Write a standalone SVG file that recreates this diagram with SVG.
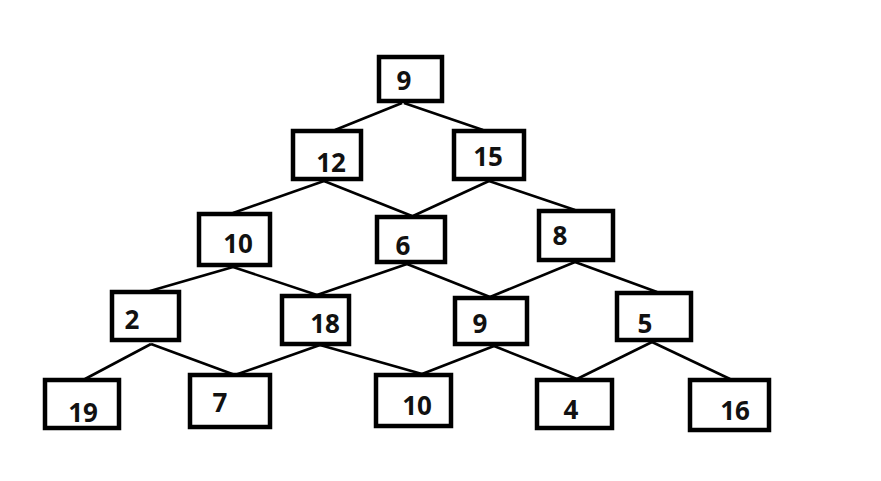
<svg xmlns="http://www.w3.org/2000/svg" width="881" height="481" viewBox="0 0 881 481">
<style>
.box{fill:#fff;stroke:#000;stroke-width:4.5}
.lbl{font-family:"Noto Sans","Open Sans","DejaVu Sans",sans-serif;font-weight:bold;font-size:26px;fill:#111;text-anchor:middle}
.edge{stroke:#000;stroke-width:2.6;fill:none}
</style>
<rect width="881" height="481" fill="#fff"/>
<g id="connectors">
<line class="edge" x1="402" y1="103" x2="335" y2="130"/>
<line class="edge" x1="404" y1="103" x2="483" y2="130"/>
<line class="edge" x1="324" y1="181" x2="233" y2="213"/>
<line class="edge" x1="324" y1="181" x2="412" y2="216"/>
<line class="edge" x1="489" y1="181" x2="413" y2="216"/>
<line class="edge" x1="489" y1="181" x2="575" y2="210"/>
<line class="edge" x1="233" y1="267" x2="150" y2="291"/>
<line class="edge" x1="233" y1="267" x2="317" y2="295"/>
<line class="edge" x1="407" y1="264" x2="317" y2="295"/>
<line class="edge" x1="407" y1="264" x2="490" y2="297"/>
<line class="edge" x1="575" y1="262" x2="490" y2="297"/>
<line class="edge" x1="575" y1="262" x2="657" y2="292"/>
<line class="edge" x1="151" y1="344" x2="85" y2="379"/>
<line class="edge" x1="151" y1="344" x2="235" y2="375"/>
<line class="edge" x1="320" y1="345" x2="235" y2="375"/>
<line class="edge" x1="320" y1="345" x2="422" y2="374"/>
<line class="edge" x1="494" y1="346" x2="422" y2="374"/>
<line class="edge" x1="494" y1="346" x2="577" y2="379"/>
<line class="edge" x1="652" y1="342" x2="577" y2="379"/>
<line class="edge" x1="652" y1="342" x2="730" y2="379"/>
</g>
<g id="n9"><rect class="box" x="379" y="57" width="63" height="44"/><text class="lbl" x="404" y="90">9</text></g>
<g id="n12"><rect class="box" x="293" y="131" width="68" height="48"/><text class="lbl" x="331" y="172">12</text></g>
<g id="n15"><rect class="box" x="454" y="131" width="70" height="48"/><text class="lbl" x="488" y="166">15</text></g>
<g id="n10a"><rect class="box" x="199" y="214" width="71" height="51"/><text class="lbl" x="238" y="253">10</text></g>
<g id="n6"><rect class="box" x="377" y="217" width="68" height="45"/><text class="lbl" x="403" y="255">6</text></g>
<g id="n8"><rect class="box" x="539" y="211" width="74" height="49"/><text class="lbl" x="560" y="245">8</text></g>
<g id="n2"><rect class="box" x="112" y="292" width="67" height="48"/><text class="lbl" x="132" y="329">2</text></g>
<g id="n18"><rect class="box" x="282" y="296" width="67" height="48"/><text class="lbl" x="325" y="333">18</text></g>
<g id="n9b"><rect class="box" x="455" y="298" width="72" height="46"/><text class="lbl" x="480" y="333">9</text></g>
<g id="n5"><rect class="box" x="617" y="293" width="74" height="47"/><text class="lbl" x="645" y="333">5</text></g>
<g id="n19"><rect class="box" x="45" y="380" width="74" height="48"/><text class="lbl" x="83" y="422">19</text></g>
<g id="n7"><rect class="box" x="190" y="375" width="80" height="52"/><text class="lbl" x="220" y="412">7</text></g>
<g id="n10b"><rect class="box" x="376" y="375" width="75" height="51"/><text class="lbl" x="417" y="415">10</text></g>
<g id="n4"><rect class="box" x="537" y="380" width="75" height="48"/><text class="lbl" x="571" y="419">4</text></g>
<g id="n16"><rect class="box" x="690" y="380" width="79" height="50"/><text class="lbl" x="735" y="420">16</text></g>
</svg>
